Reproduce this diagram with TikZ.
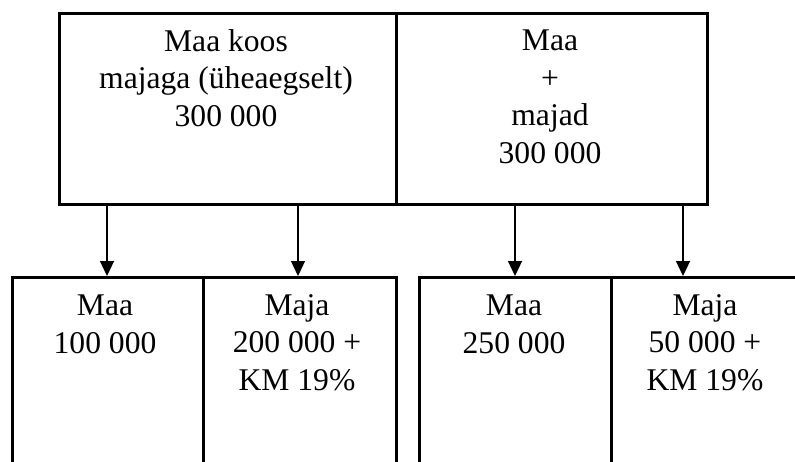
\documentclass[tikz,border=0pt]{standalone}
\usepackage{fontspec}
\setmainfont{Liberation Serif}
\usetikzlibrary{arrows.meta}
\begin{document}
\begin{tikzpicture}[x=1pt,y=-1pt,
  box/.style={draw, line width=2.6pt, rectangle, inner sep=0pt, anchor=north west},
  lbl/.style={anchor=base, align=center, inner sep=0pt, font=\fontsize{31.6pt}{37.5pt}\selectfont},
  arr/.style={line width=1.2pt, -{Triangle[length=15pt,width=14pt]}}]
\useasboundingbox (0,0) rectangle (795,461);
\begin{scope}
\clip (0,0) rectangle (795,461);
\node[box, minimum width=337pt, minimum height=191pt] (tl) at (58,12) {};
\node[box, minimum width=311pt, minimum height=191pt] (tr) at (395,12) {};
\node[box, minimum width=191pt, minimum height=210pt] (b1) at (11,276) {};
\node[box, minimum width=193pt, minimum height=210pt] (b2) at (202,276) {};
\node[box, minimum width=192pt, minimum height=210pt] (b3) at (418,276) {};
\node[box, minimum width=200pt, minimum height=210pt] (b4) at (610,276) {};
\end{scope}
\node[lbl] (ttl) at (226,126) {Maa koos\\majaga (üheaegselt)\\300 000};
\node[lbl] (ttr) at (550,163) {Maa\\+\\majad\\300 000};
\node[lbl] (tb1) at (105,353) {Maa\\100 000};
\node[lbl] (tb2) at (297,390) {Maja\\200 000 +\\KM 19\%};
\node[lbl] (tb3) at (514,353) {Maa\\250 000};
\node[lbl] (tb4) at (705,390) {Maja\\50 000 +\\KM 19\%};
\coordinate (a1) at (107,0);
\coordinate (a2) at (298,0);
\coordinate (a3) at (515,0);
\coordinate (a4) at (683,0);
\draw[arr] (tl.south -| a1) -- (b1.north -| a1);
\draw[arr] (tl.south -| a2) -- (b2.north -| a2);
\draw[arr] (tr.south -| a3) -- (b3.north -| a3);
\draw[arr] (tr.south -| a4) -- (b4.north -| a4);
\end{tikzpicture}
\end{document}
